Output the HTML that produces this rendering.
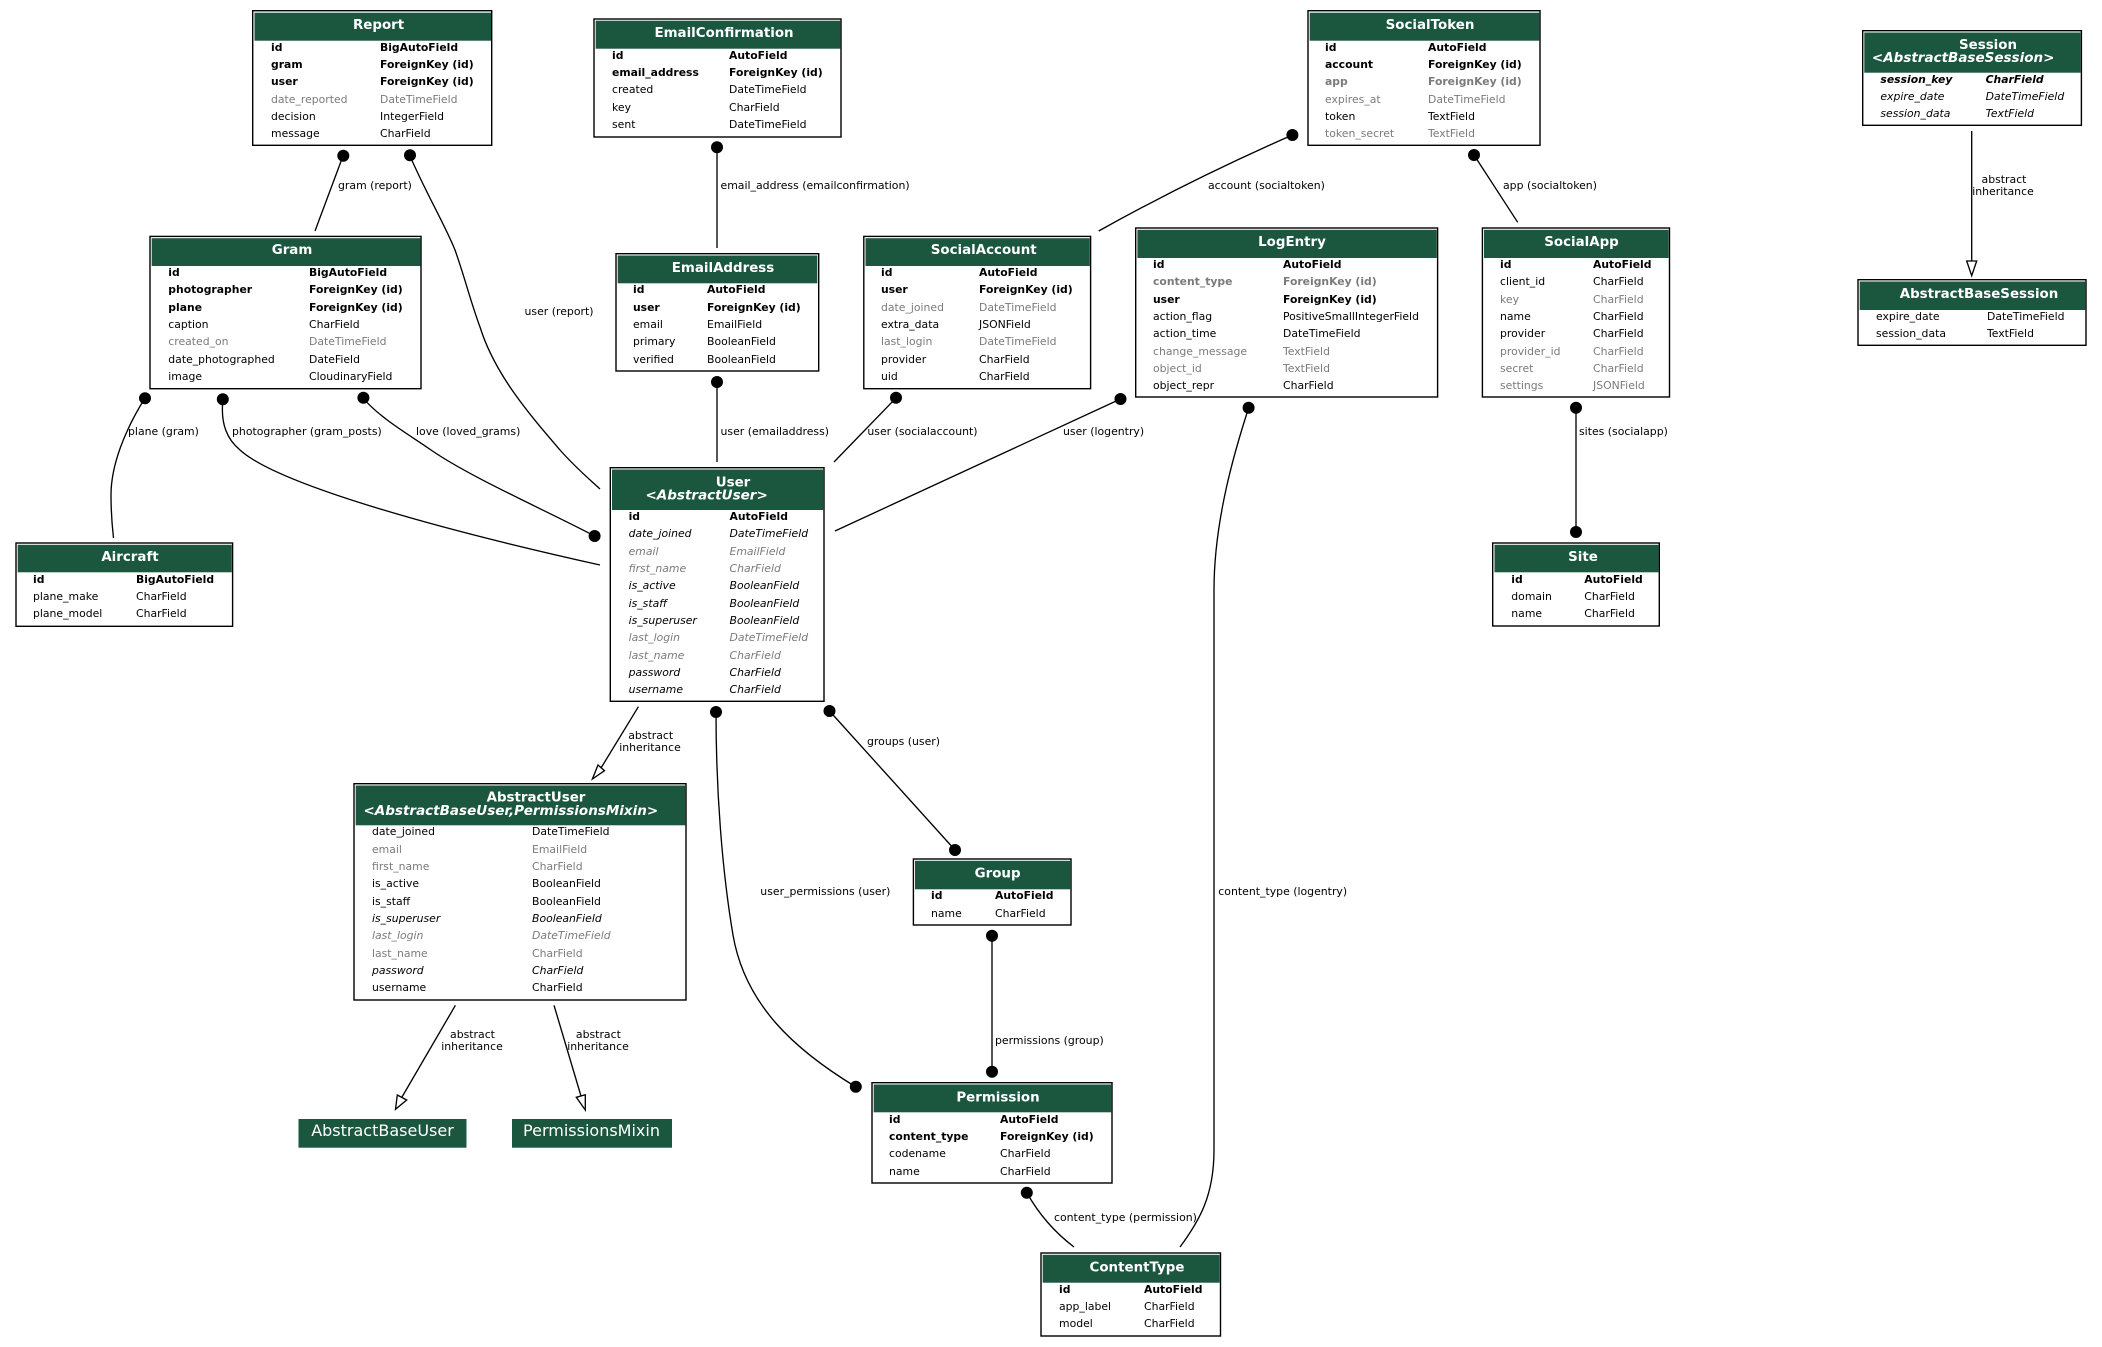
<!DOCTYPE html>
<html><head><meta charset="utf-8"><title>Models</title>
<style>
html,body{margin:0;padding:0;background:#fff;width:2102px;height:1347px;overflow:hidden}
svg{display:block}
text{font-family:"DejaVu Sans",sans-serif;font-size:10.85px;fill:#000}
.b{font-weight:bold;font-size:10.8px}.g{fill:#7b7b7b}.i{font-style:italic}
.l{font-size:10.9px}
.t{font-weight:bold;font-size:13.4px;fill:#fff;text-anchor:middle}
.ti{font-weight:bold;font-style:italic;font-size:13.5px;fill:#fff}
.n{font-size:16px;fill:#fff;text-anchor:middle}
.m{text-anchor:middle}
.box{fill:#fff;stroke:#000;stroke-width:1.4}
.hd{fill:#1b563f;stroke:none}
.e{fill:none;stroke:#000;stroke-width:1.33}
.a{fill:#fff;stroke:#000;stroke-width:1.33}
</style></head><body>
<svg width="2102" height="1347" viewBox="0 0 2102 1347" xmlns="http://www.w3.org/2000/svg">
<rect width="2102" height="1347" fill="#fff"/>

<!-- edges -->
<path class="e" d="M343,156 L315,231"/>
<path class="e" d="M410,156 C427,195 445,225 455,250 C465,278 470,300 480,327 C495,375 530,415 560,450 C575,467 587,477 600,489"/>
<path class="e" d="M145,398 C125,430 111,465 111,495 C111,510 112,525 113.5,538"/>
<path class="e" d="M223,399 C220,425 228,440 240,450 C275,482 420,525 600,565"/>
<path class="e" d="M363,398 C380,418 408,434 431,450 C470,477 545,510 594.6,536"/>
<path class="e" d="M717,147 L717,248"/>
<path class="e" d="M717,382 L717,462"/>
<path class="e" d="M896,398 L834,462"/>
<path class="e" d="M1120.5,399 L835,531"/>
<path class="e" d="M1248.6,408 C1235,450 1214,520 1214,590 L1214,1150 C1214,1195 1200,1220 1180,1247"/>
<path class="e" d="M1292.4,135 Q1190,180 1098.7,231"/>
<path class="e" d="M1474,155 L1517.7,222.3"/>
<path class="e" d="M1576,408 L1576,532"/>
<path class="e" d="M1971.7,131 L1971.7,261"/>
<polygon class="a" points="1966.7,261 1976.7,261 1971.7,275.7"/>
<path class="e" d="M638.4,706.7 L601,768"/>
<polygon class="a" points="598,765 604.5,770.7 592.4,779"/>
<path class="e" d="M455.4,1005.3 L402,1097"/>
<polygon class="a" points="397.3,1095 406.7,1100 395.5,1109.3"/>
<path class="e" d="M554,1005.3 L581,1096"/>
<polygon class="a" points="576.3,1097.3 585.3,1094.7 585.3,1110"/>
<path class="e" d="M829.5,711 L955,850"/>
<path class="e" d="M716,712 C716,790 722,870 733,935 C745,1005 795,1050 856,1087"/>
<path class="e" d="M992,936 L992,1072"/>
<path class="e" d="M1027,1193 Q1045,1225 1074,1247"/>

<!-- dots -->
<g fill="#000">
<circle cx="343.3" cy="155.7" r="6"/><circle cx="410" cy="155.3" r="6"/>
<circle cx="145" cy="398.3" r="6"/><circle cx="222.8" cy="399.3" r="6"/><circle cx="363.4" cy="397.7" r="6"/>
<circle cx="594.6" cy="536" r="6"/>
<circle cx="717" cy="147.3" r="6"/><circle cx="717" cy="382" r="6"/>
<circle cx="896" cy="397.7" r="6"/><circle cx="1120.5" cy="399" r="6"/><circle cx="1248.6" cy="407.7" r="6"/>
<circle cx="1292.4" cy="135" r="6"/><circle cx="1474" cy="155" r="6"/><circle cx="1576" cy="407.7" r="6"/><circle cx="1576" cy="532" r="6"/>
<circle cx="829.5" cy="711" r="6"/><circle cx="955" cy="850" r="6"/><circle cx="716" cy="712" r="6"/>
<circle cx="855.8" cy="1086.7" r="6"/><circle cx="992" cy="935.7" r="6"/><circle cx="992" cy="1071.7" r="6"/><circle cx="1026.8" cy="1192.7" r="6"/>
</g>

<!-- edge labels -->
<g>
<text class="l" x="338" y="189">gram (report)</text>
<text class="l" x="524.5" y="315">user (report)</text>
<text class="l" x="128" y="435">plane (gram)</text>
<text class="l" x="232" y="435">photographer (gram_posts)</text>
<text class="l" x="416" y="435">love (loved_grams)</text>
<text class="l" x="720.5" y="189">email_address (emailconfirmation)</text>
<text class="l" x="1208" y="189">account (socialtoken)</text>
<text class="l" x="1503" y="189">app (socialtoken)</text>
<text class="l" x="720.5" y="435">user (emailaddress)</text>
<text class="l" x="867.4" y="435">user (socialaccount)</text>
<text class="l" x="1063" y="435">user (logentry)</text>
<text class="l" x="1579" y="435">sites (socialapp)</text>
<text class="l m" x="2004" y="183">abstract</text><text class="l m" x="2003" y="195">inheritance</text>
<text class="l m" x="650.7" y="739">abstract</text><text class="l m" x="650" y="751">inheritance</text>
<text class="l m" x="472.5" y="1038">abstract</text><text class="l m" x="472" y="1050">inheritance</text>
<text class="l m" x="598.4" y="1038">abstract</text><text class="l m" x="598" y="1050">inheritance</text>
<text class="l" x="867" y="745">groups (user)</text>
<text class="l" x="760.3" y="895">user_permissions (user)</text>
<text class="l" x="1218.3" y="895">content_type (logentry)</text>
<text class="l" x="995" y="1044">permissions (group)</text>
<text class="l" x="1054" y="1221">content_type (permission)</text>
</g>

<!-- Report -->
<rect class="box" x="252.7" y="10.7" width="239" height="134.6"/><rect class="hd" x="254.5" y="12.7" width="236.5" height="28"/>
<text class="t" x="378.6" y="29">Report</text>
<text class="b" x="271" y="51">id</text><text class="b" x="380" y="51">BigAutoField</text>
<text class="b" x="271" y="68">gram</text><text class="b" x="380" y="68">ForeignKey (id)</text>
<text class="b" x="271" y="85">user</text><text class="b" x="380" y="85">ForeignKey (id)</text>
<text class="g" x="271" y="103">date_reported</text><text class="g" x="380" y="103">DateTimeField</text>
<text x="271" y="120">decision</text><text x="380" y="120">IntegerField</text>
<text x="271" y="137">message</text><text x="380" y="137">CharField</text>

<!-- EmailConfirmation -->
<rect class="box" x="594" y="19" width="247" height="118"/><rect class="hd" x="595.7" y="20.7" width="244.6" height="28"/>
<text class="t" x="724" y="37">EmailConfirmation</text>
<text class="b" x="612" y="59">id</text><text class="b" x="729" y="59">AutoField</text>
<text class="b" x="612" y="76">email_address</text><text class="b" x="729" y="76">ForeignKey (id)</text>
<text x="612" y="93">created</text><text x="729" y="93">DateTimeField</text>
<text x="612" y="111">key</text><text x="729" y="111">CharField</text>
<text x="612" y="128">sent</text><text x="729" y="128">DateTimeField</text>

<!-- SocialToken -->
<rect class="box" x="1308" y="10.7" width="232" height="134.6"/><rect class="hd" x="1309.7" y="12.7" width="229.6" height="28"/>
<text class="t" x="1430" y="29">SocialToken</text>
<text class="b" x="1325" y="51">id</text><text class="b" x="1428" y="51">AutoField</text>
<text class="b" x="1325" y="68">account</text><text class="b" x="1428" y="68">ForeignKey (id)</text>
<text class="b g" x="1325" y="85">app</text><text class="b g" x="1428" y="85">ForeignKey (id)</text>
<text class="g" x="1325" y="103">expires_at</text><text class="g" x="1428" y="103">DateTimeField</text>
<text x="1325" y="120">token</text><text x="1428" y="120">TextField</text>
<text class="g" x="1325" y="137">token_secret</text><text class="g" x="1428" y="137">TextField</text>

<!-- Session -->
<rect class="box" x="1862.7" y="30.7" width="218.7" height="94.6"/><rect class="hd" x="1864.3" y="32.5" width="216.3" height="40.2"/>
<text class="t" x="1988" y="49">Session</text>
<text class="ti" x="1871.9" y="62">&lt;AbstractBaseSession&gt;</text>
<text class="b i" x="1880.4" y="83">session_key</text><text class="b i" x="1985.6" y="83">CharField</text>
<text class="i" x="1880.4" y="100">expire_date</text><text class="i" x="1985.6" y="100">DateTimeField</text>
<text class="i" x="1880.4" y="117">session_data</text><text class="i" x="1985.6" y="117">TextField</text>

<!-- AbstractBaseSession -->
<rect class="box" x="1858" y="279.7" width="228" height="65.6"/><rect class="hd" x="1859.7" y="281.5" width="225.6" height="28.5"/>
<text class="t" x="1979" y="298">AbstractBaseSession</text>
<text x="1876" y="320">expire_date</text><text x="1987" y="320">DateTimeField</text>
<text x="1876" y="337">session_data</text><text x="1987" y="337">TextField</text>

<!-- Gram -->
<rect class="box" x="150" y="236.4" width="271" height="152.3"/><rect class="hd" x="151.7" y="238.2" width="268.7" height="27.8"/>
<text class="t" x="292" y="254">Gram</text>
<text class="b" x="168.3" y="276">id</text><text class="b" x="309" y="276">BigAutoField</text>
<text class="b" x="168.3" y="293">photographer</text><text class="b" x="309" y="293">ForeignKey (id)</text>
<text class="b" x="168.3" y="311">plane</text><text class="b" x="309" y="311">ForeignKey (id)</text>
<text x="168.3" y="328">caption</text><text x="309" y="328">CharField</text>
<text class="g" x="168.3" y="345">created_on</text><text class="g" x="309" y="345">DateTimeField</text>
<text x="168.3" y="363">date_photographed</text><text x="309" y="363">DateField</text>
<text x="168.3" y="380">image</text><text x="309" y="380">CloudinaryField</text>

<!-- EmailAddress -->
<rect class="box" x="616" y="253.7" width="202.7" height="117.3"/><rect class="hd" x="617.7" y="255.5" width="199.6" height="27.8"/>
<text class="t" x="723" y="272">EmailAddress</text>
<text class="b" x="633" y="293">id</text><text class="b" x="707" y="293">AutoField</text>
<text class="b" x="633" y="311">user</text><text class="b" x="707" y="311">ForeignKey (id)</text>
<text x="633" y="328">email</text><text x="707" y="328">EmailField</text>
<text x="633" y="345">primary</text><text x="707" y="345">BooleanField</text>
<text x="633" y="363">verified</text><text x="707" y="363">BooleanField</text>

<!-- SocialAccount -->
<rect class="box" x="863.8" y="236.4" width="226.8" height="152.3"/><rect class="hd" x="865.5" y="238.2" width="224.3" height="27.8"/>
<text class="t" x="983.7" y="254">SocialAccount</text>
<text class="b" x="881" y="276">id</text><text class="b" x="979" y="276">AutoField</text>
<text class="b" x="881" y="293">user</text><text class="b" x="979" y="293">ForeignKey (id)</text>
<text class="g" x="881" y="311">date_joined</text><text class="g" x="979" y="311">DateTimeField</text>
<text x="881" y="328">extra_data</text><text x="979" y="328">JSONField</text>
<text class="g" x="881" y="345">last_login</text><text class="g" x="979" y="345">DateTimeField</text>
<text x="881" y="363">provider</text><text x="979" y="363">CharField</text>
<text x="881" y="380">uid</text><text x="979" y="380">CharField</text>

<!-- LogEntry -->
<rect class="box" x="1135.7" y="228" width="301.9" height="169"/><rect class="hd" x="1137.4" y="229.8" width="299.4" height="28.2"/>
<text class="t" x="1292" y="246">LogEntry</text>
<text class="b" x="1153" y="268">id</text><text class="b" x="1283" y="268">AutoField</text>
<text class="b g" x="1153" y="285">content_type</text><text class="b g" x="1283" y="285">ForeignKey (id)</text>
<text class="b" x="1153" y="303">user</text><text class="b" x="1283" y="303">ForeignKey (id)</text>
<text x="1153" y="320">action_flag</text><text x="1283" y="320">PositiveSmallIntegerField</text>
<text x="1153" y="337">action_time</text><text x="1283" y="337">DateTimeField</text>
<text class="g" x="1153" y="355">change_message</text><text class="g" x="1283" y="355">TextField</text>
<text class="g" x="1153" y="372">object_id</text><text class="g" x="1283" y="372">TextField</text>
<text x="1153" y="389">object_repr</text><text x="1283" y="389">CharField</text>

<!-- SocialApp -->
<rect class="box" x="1482.4" y="228" width="187.1" height="169"/><rect class="hd" x="1484" y="229.8" width="184.7" height="28.2"/>
<text class="t" x="1581.5" y="246">SocialApp</text>
<text class="b" x="1500" y="268">id</text><text class="b" x="1593" y="268">AutoField</text>
<text x="1500" y="285">client_id</text><text x="1593" y="285">CharField</text>
<text class="g" x="1500" y="303">key</text><text class="g" x="1593" y="303">CharField</text>
<text x="1500" y="320">name</text><text x="1593" y="320">CharField</text>
<text x="1500" y="337">provider</text><text x="1593" y="337">CharField</text>
<text class="g" x="1500" y="355">provider_id</text><text class="g" x="1593" y="355">CharField</text>
<text class="g" x="1500" y="372">secret</text><text class="g" x="1593" y="372">CharField</text>
<text class="g" x="1500" y="389">settings</text><text class="g" x="1593" y="389">JSONField</text>

<!-- Aircraft -->
<rect class="box" x="16" y="543" width="216.6" height="83.3"/><rect class="hd" x="17.7" y="544.8" width="214.1" height="27.5"/>
<text class="t" x="130" y="561">Aircraft</text>
<text class="b" x="33" y="583">id</text><text class="b" x="136" y="583">BigAutoField</text>
<text x="33" y="600">plane_make</text><text x="136" y="600">CharField</text>
<text x="33" y="617">plane_model</text><text x="136" y="617">CharField</text>

<!-- Site -->
<rect class="box" x="1492.7" y="543" width="166.6" height="83"/><rect class="hd" x="1494.5" y="544.8" width="164" height="27.5"/>
<text class="t" x="1583" y="561">Site</text>
<text class="b" x="1511.3" y="583">id</text><text class="b" x="1584.3" y="583">AutoField</text>
<text x="1511.3" y="600">domain</text><text x="1584.3" y="600">CharField</text>
<text x="1511.3" y="617">name</text><text x="1584.3" y="617">CharField</text>

<!-- User -->
<rect class="box" x="610.3" y="467.7" width="213.7" height="233.6"/><rect class="hd" x="612" y="469.5" width="211.2" height="40.5"/>
<text class="t" x="733" y="486.5">User</text>
<text class="ti" x="645.5" y="499.5">&lt;AbstractUser&gt;</text>
<text class="b" x="628.6" y="520">id</text><text class="b" x="729.5" y="520">AutoField</text>
<text class="i" x="628.6" y="537">date_joined</text><text class="i" x="729.5" y="537">DateTimeField</text>
<text class="i g" x="628.6" y="555">email</text><text class="i g" x="729.5" y="555">EmailField</text>
<text class="i g" x="628.6" y="572">first_name</text><text class="i g" x="729.5" y="572">CharField</text>
<text class="i" x="628.6" y="589">is_active</text><text class="i" x="729.5" y="589">BooleanField</text>
<text class="i" x="628.6" y="607">is_staff</text><text class="i" x="729.5" y="607">BooleanField</text>
<text class="i" x="628.6" y="624">is_superuser</text><text class="i" x="729.5" y="624">BooleanField</text>
<text class="i g" x="628.6" y="641">last_login</text><text class="i g" x="729.5" y="641">DateTimeField</text>
<text class="i g" x="628.6" y="659">last_name</text><text class="i g" x="729.5" y="659">CharField</text>
<text class="i" x="628.6" y="676">password</text><text class="i" x="729.5" y="676">CharField</text>
<text class="i" x="628.6" y="693">username</text><text class="i" x="729.5" y="693">CharField</text>

<!-- AbstractUser -->
<rect class="box" x="354" y="783.7" width="332" height="216.3"/><rect class="hd" x="355.7" y="785.5" width="329.6" height="39.8"/>
<text class="t" x="536" y="801.5">AbstractUser</text>
<text class="ti" x="363.5" y="815">&lt;AbstractBaseUser,PermissionsMixin&gt;</text>
<text x="372" y="835">date_joined</text><text x="532" y="835">DateTimeField</text>
<text class="g" x="372" y="853">email</text><text class="g" x="532" y="853">EmailField</text>
<text class="g" x="372" y="870">first_name</text><text class="g" x="532" y="870">CharField</text>
<text x="372" y="887">is_active</text><text x="532" y="887">BooleanField</text>
<text x="372" y="905">is_staff</text><text x="532" y="905">BooleanField</text>
<text class="i" x="372" y="922">is_superuser</text><text class="i" x="532" y="922">BooleanField</text>
<text class="i g" x="372" y="939">last_login</text><text class="i g" x="532" y="939">DateTimeField</text>
<text class="g" x="372" y="957">last_name</text><text class="g" x="532" y="957">CharField</text>
<text class="i" x="372" y="974">password</text><text class="i" x="532" y="974">CharField</text>
<text x="372" y="991">username</text><text x="532" y="991">CharField</text>

<!-- AbstractBaseUser / PermissionsMixin -->
<rect class="hd" x="298.5" y="1119" width="168" height="28.7"/><text class="n" x="382.5" y="1136">AbstractBaseUser</text>
<rect class="hd" x="512" y="1119" width="160" height="28.7"/><text class="n" x="591.5" y="1136">PermissionsMixin</text>

<!-- Group -->
<rect class="box" x="913.4" y="859" width="157.6" height="66"/><rect class="hd" x="915" y="860.8" width="155.2" height="28.5"/>
<text class="t" x="997.6" y="877.7">Group</text>
<text class="b" x="931" y="899">id</text><text class="b" x="995" y="899">AutoField</text>
<text x="931" y="917">name</text><text x="995" y="917">CharField</text>

<!-- Permission -->
<rect class="box" x="872" y="1082.7" width="240" height="100.3"/><rect class="hd" x="873.7" y="1084.5" width="237.6" height="27.8"/>
<text class="t" x="998" y="1101.7">Permission</text>
<text class="b" x="889" y="1123">id</text><text class="b" x="1000" y="1123">AutoField</text>
<text class="b" x="889" y="1140">content_type</text><text class="b" x="1000" y="1140">ForeignKey (id)</text>
<text x="889" y="1157">codename</text><text x="1000" y="1157">CharField</text>
<text x="889" y="1175">name</text><text x="1000" y="1175">CharField</text>

<!-- ContentType -->
<rect class="box" x="1041" y="1253" width="179.5" height="83"/><rect class="hd" x="1042.7" y="1254.8" width="177" height="27.9"/>
<text class="t" x="1137" y="1271.7">ContentType</text>
<text class="b" x="1059" y="1293">id</text><text class="b" x="1144" y="1293">AutoField</text>
<text x="1059" y="1310">app_label</text><text x="1144" y="1310">CharField</text>
<text x="1059" y="1327">model</text><text x="1144" y="1327">CharField</text>
</svg>
</body></html>
